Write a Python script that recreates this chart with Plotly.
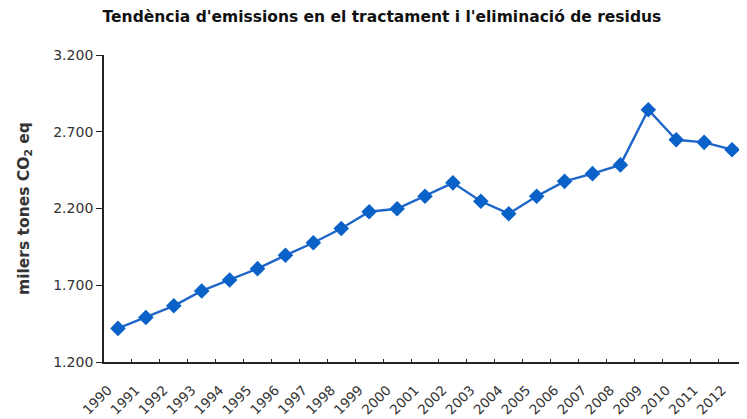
import plotly.graph_objects as go

years = [str(y) for y in range(1990, 2013)]
values = [1419, 1490, 1566, 1663, 1734, 1808, 1895, 1977, 2070, 2179, 2198, 2280,
          2367, 2247, 2166, 2280, 2377, 2427, 2484, 2843, 2648, 2631, 2583]
y_ticks = [1200, 1700, 2200, 2700, 3200]
y_tick_labels = ["1.200", "1.700", "2.200", "2.700", "3.200"]

FONT = "DejaVu Sans, Arial, sans-serif"

fig = go.Figure()
fig.add_trace(go.Scatter(
    x=years, y=values, mode="lines+markers",
    line=dict(color="#1f66c8", width=2.4),
    marker=dict(symbol="diamond", size=12, color="#0a62c8"),
    showlegend=False,
))

# page has an 8px body margin, so figure is 8px smaller and offsets compensate
fig.update_layout(
    width=739, height=411,
    margin=dict(l=96, r=1, t=47, b=57, autoexpand=False),
    paper_bgcolor="white", plot_bgcolor="white",
    font=dict(family=FONT, color="#222"),
    title=dict(text="<b>Tendència d'emissions en el tractament i l'eliminació de residus</b>",
               x=0.506, xanchor="center", y=0.978, yanchor="middle",
               font=dict(size=15.5, color="#111", family=FONT)),
    xaxis=dict(
        type="category", range=[-0.5, len(years) - 0.5],
        tickangle=-45, tickfont=dict(size=13.5, color="#333"),
        showline=True, linecolor="#222", linewidth=1.8, mirror=False,
        ticks="inside", ticklen=3, tickcolor="#222", tickson="boundaries",
        showgrid=False, zeroline=False, automargin=False,
        ticklabelstandoff=13, ticklabelshift=-10,
    ),
    yaxis=dict(
        range=[1200, 3200], tickvals=y_ticks, ticktext=y_tick_labels,
        tickfont=dict(size=14, color="#333"),
        showline=True, linecolor="#222", linewidth=1.8,
        ticks="outside", ticklen=6, tickcolor="#222",
        showgrid=False, zeroline=False, automargin=False,
        title=dict(text="<b>milers tones CO<sub>2</sub> eq</b>", standoff=20,
                   font=dict(size=15.5, color="#333")),
    ),
)

fig.write_html("out.html")
